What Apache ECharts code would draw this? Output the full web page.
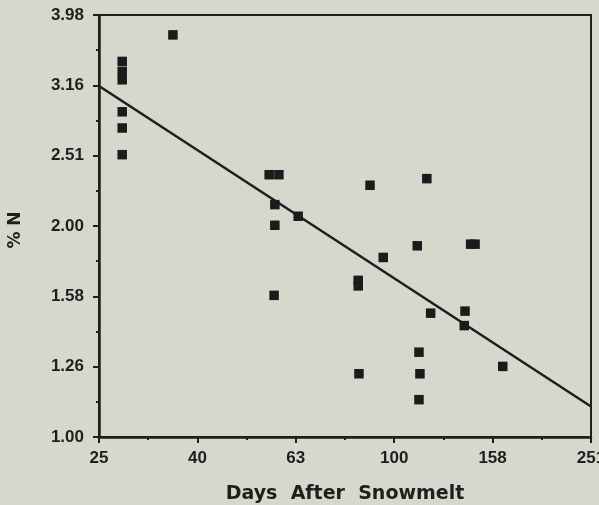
<!DOCTYPE html>
<html>
<head>
<meta charset="utf-8">
<script src="https://cdn.jsdelivr.net/npm/echarts@6/dist/echarts.min.js"></script>
<style>
  html, body { margin: 0; padding: 0; background: #d6d8cd; }
  #chart { width: 599px; height: 505px; }
</style>
</head>
<body>
<div id="chart"></div>
<script>
// Leaf nitrogen (%) against days after snowmelt, both on log10 scales.
const days = [
  35.5, 28, 28, 28, 28, 28, 28,
  55.7, 58.3, 57.2, 57.2, 57.0, 63.8,
  89.3, 116.5, 111.4, 95.0, 84.5, 84.5, 143, 146,
  118.6, 139.3, 138.8, 112.3, 84.8, 112.8, 112.3, 166.2
];
const nitrogen = [
  3.73, 3.42, 3.31, 3.22, 2.90, 2.75, 2.52,
  2.36, 2.36, 2.14, 2.00, 1.59, 2.06,
  2.28, 2.33, 1.87, 1.80, 1.67, 1.64, 1.88, 1.88,
  1.50, 1.51, 1.44, 1.32, 1.23, 1.23, 1.13, 1.26
];
// Fitted regression line end points (days, %N)
const fitDays = [25.12, 251.2];
const fitN = [3.155, 1.105];

const xTicks = ['25', '40', '63', '100', '158', '251'];
const yTicks = ['1.00', '1.26', '1.58', '2.00', '2.51', '3.16', '3.98'];

const ink = '#221c1c';
const labelFont = { color: ink, fontFamily: 'Liberation Sans', fontWeight: 'bold', fontSize: 17 };
const titleFont = { color: ink, fontFamily: 'DejaVu Sans', fontWeight: 'bold' };

const points = days.map((d, i) => [Math.log10(d), Math.log10(nitrogen[i])]);
const fit = fitDays.map((d, i) => [Math.log10(d), Math.log10(fitN[i])]);

const chart = echarts.init(document.getElementById('chart'), null, { renderer: 'canvas' });
chart.setOption({
  backgroundColor: '#d6d8cd',
  animation: false,
  grid: {
    left: 99, right: 8, top: 15, bottom: 68,
    outerBoundsMode: 'none', containLabel: false,
    show: true, borderColor: ink, borderWidth: 2, backgroundColor: 'transparent'
  },
  xAxis: {
    type: 'value', min: 1.4, max: 2.4, interval: 0.2,
    name: 'Days  After  Snowmelt', nameLocation: 'middle', nameGap: 48,
    nameTextStyle: Object.assign({ fontSize: 19 }, titleFont),
    axisLine: { show: true, onZero: false, lineStyle: { color: ink, width: 2.5 } },
    axisTick: { show: true, length: 6, lineStyle: { color: ink, width: 2 } },
    minorTick: { show: true, splitNumber: 2, length: 3, lineStyle: { color: ink, width: 2 } },
    splitLine: { show: false },
    axisLabel: Object.assign({ margin: 13, formatter: v => xTicks[Math.round((v - 1.4) / 0.2)] }, labelFont)
  },
  yAxis: {
    type: 'value', min: 0, max: 0.6, interval: 0.1,
    name: '% N', nameLocation: 'middle', nameGap: 75, nameRotate: 90,
    nameTextStyle: Object.assign({ fontSize: 17, padding: [0, 8, 0, 0] }, titleFont),
    axisLine: { show: true, onZero: false, lineStyle: { color: ink, width: 2.5 } },
    axisTick: { show: true, length: 6, lineStyle: { color: ink, width: 2 } },
    minorTick: { show: true, splitNumber: 2, length: 3, lineStyle: { color: ink, width: 2 } },
    splitLine: { show: false },
    axisLabel: Object.assign({ margin: 15, padding: [6, 0, 0, 0], formatter: v => yTicks[Math.round(v * 10)] }, labelFont)
  },
  series: [
    {
      type: 'line', data: fit, showSymbol: false, silent: true,
      lineStyle: { color: ink, width: 2.5 }, z: 2
    },
    {
      type: 'scatter', data: points, symbol: 'rect', symbolSize: 9.5,
      itemStyle: { color: '#1c1a1a', opacity: 1 }, z: 3
    }
  ]
});
</script>
</body>
</html>
